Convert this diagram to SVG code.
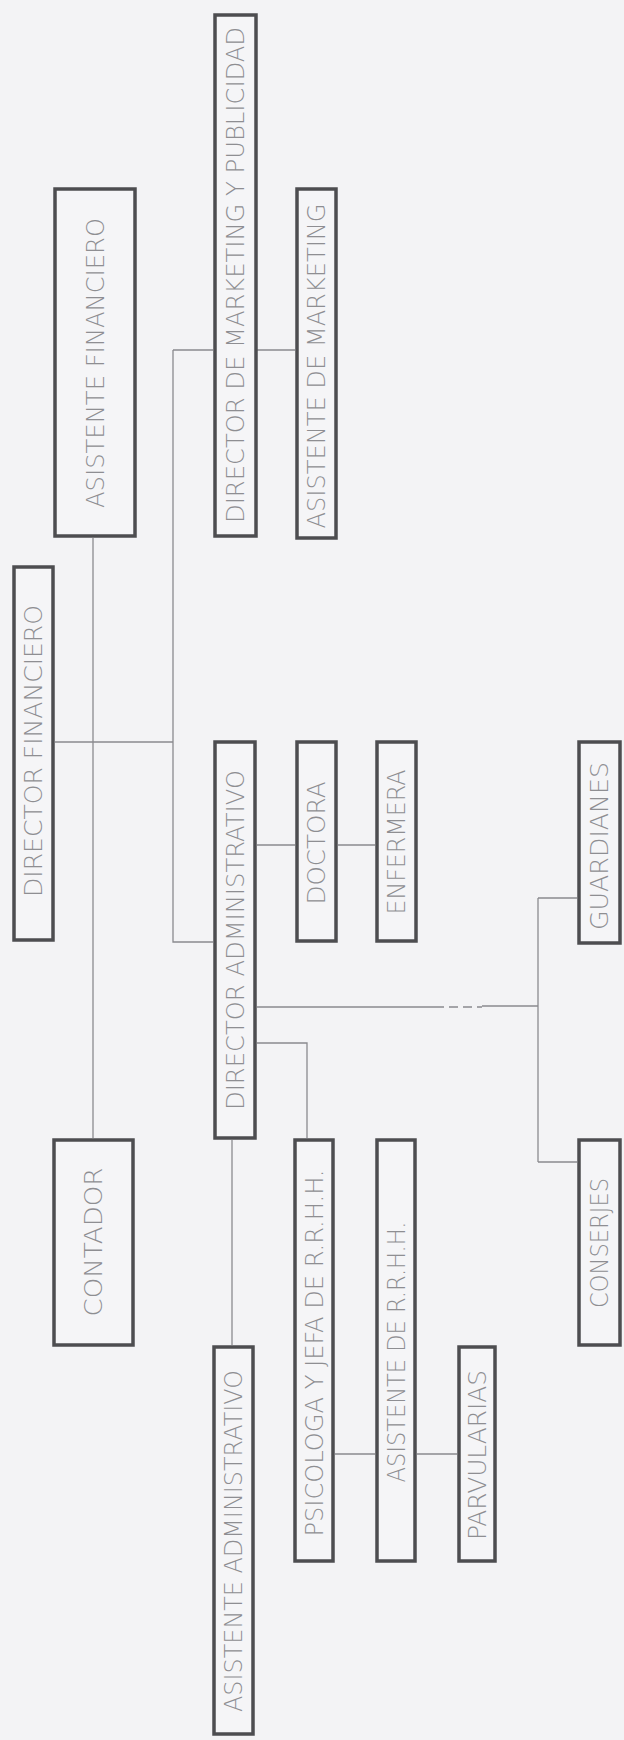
<svg xmlns="http://www.w3.org/2000/svg" width="624" height="1740" viewBox="0 0 624 1740">
<style>
.bg{fill:#f3f3f5}
.box{fill:#f5f5f7;stroke:#4d4d50;stroke-width:3.5}
.lbl{font-family:"DejaVu Sans","Liberation Sans",sans-serif;font-weight:200;font-size:24px;fill:#8e8e92;text-anchor:middle}
.ln{fill:none;stroke:#8a8a8e;stroke-width:1.3}
.dash{fill:none;stroke:#8a8a8e;stroke-width:1.3;stroke-dasharray:9 5}
</style>
<rect class="bg" x="0" y="0" width="624" height="1740"/>
<g id="connectors">
<path class="ln" d="M55 742H173"/>
<path class="ln" d="M93 538V1138"/>
<path class="ln" d="M173 350V942H213"/>
<path class="ln" d="M173 350H213"/>
<path class="ln" d="M257 350H295"/>
<path class="ln" d="M257 845H295"/>
<path class="ln" d="M338 845H375"/>
<path class="ln" d="M257 1007H435"/>
<path class="dash" d="M435 1007H482"/>
<path class="ln" d="M482 1006H538"/>
<path class="ln" d="M538 898V1162"/>
<path class="ln" d="M538 898H577"/>
<path class="ln" d="M538 1162H577"/>
<path class="ln" d="M257 1043H307V1138"/>
<path class="ln" d="M232 1140V1345"/>
<path class="ln" d="M335 1454H375"/>
<path class="ln" d="M417 1454H457"/>
</g>
<g id="dir-marketing"><rect class="box" x="215" y="15" width="41" height="521"/><text class="lbl" transform="translate(235.5,275) rotate(-90)" x="0" y="8.7" textLength="496" lengthAdjust="spacingAndGlyphs">DIRECTOR DE MARKETING Y PUBLICIDAD</text></g>
<g id="asist-financiero"><rect class="box" x="55" y="189" width="80" height="347"/><text class="lbl" transform="translate(95,363) rotate(-90)" x="0" y="8.7" textLength="290" lengthAdjust="spacingAndGlyphs">ASISTENTE FINANCIERO</text></g>
<g id="asist-marketing"><rect class="box" x="297" y="189" width="39" height="349"/><text class="lbl" transform="translate(316.5,366) rotate(-90)" x="0" y="8.7" textLength="325" lengthAdjust="spacingAndGlyphs">ASISTENTE DE MARKETING</text></g>
<g id="dir-financiero"><rect class="box" x="14" y="567" width="39" height="373"/><text class="lbl" transform="translate(33.5,751) rotate(-90)" x="0" y="8.7" textLength="292" lengthAdjust="spacingAndGlyphs">DIRECTOR FINANCIERO</text></g>
<g id="dir-administrativo"><rect class="box" x="215" y="742" width="40" height="396"/><text class="lbl" transform="translate(235,940) rotate(-90)" x="0" y="8.7" textLength="340" lengthAdjust="spacingAndGlyphs">DIRECTOR ADMINISTRATIVO</text></g>
<g id="doctora"><rect class="box" x="297" y="742" width="39" height="199"/><text class="lbl" transform="translate(316.5,843) rotate(-90)" x="0" y="8.7" textLength="123" lengthAdjust="spacingAndGlyphs">DOCTORA</text></g>
<g id="enfermera"><rect class="box" x="377" y="742" width="39" height="199"/><text class="lbl" transform="translate(396.5,842) rotate(-90)" x="0" y="8.7" textLength="145" lengthAdjust="spacingAndGlyphs">ENFERMERA</text></g>
<g id="guardianes"><rect class="box" x="579" y="742" width="41" height="201"/><text class="lbl" transform="translate(599.5,846) rotate(-90)" x="0" y="8.7" textLength="168" lengthAdjust="spacingAndGlyphs">GUARDIANES</text></g>
<g id="contador"><rect class="box" x="54" y="1140" width="79" height="205"/><text class="lbl" transform="translate(93.5,1242) rotate(-90)" x="0" y="8.7" textLength="149" lengthAdjust="spacingAndGlyphs">CONTADOR</text></g>
<g id="psicologa"><rect class="box" x="295" y="1140" width="38" height="421"/><text class="lbl" transform="translate(314,1353) rotate(-90)" x="0" y="8.7" textLength="367" lengthAdjust="spacingAndGlyphs">PSICOLOGA Y JEFA DE R.R.H.H.</text></g>
<g id="asist-rrhh"><rect class="box" x="377" y="1140" width="38" height="421"/><text class="lbl" transform="translate(396,1352) rotate(-90)" x="0" y="8.7" textLength="261" lengthAdjust="spacingAndGlyphs">ASISTENTE DE R.R.H.H.</text></g>
<g id="parvularias"><rect class="box" x="459" y="1347" width="36" height="214"/><text class="lbl" transform="translate(477,1455) rotate(-90)" x="0" y="8.7" textLength="170" lengthAdjust="spacingAndGlyphs">PARVULARIAS</text></g>
<g id="conserjes"><rect class="box" x="579" y="1140" width="41" height="205"/><text class="lbl" transform="translate(599.5,1243) rotate(-90)" x="0" y="8.7" textLength="130" lengthAdjust="spacingAndGlyphs">CONSERJES</text></g>
<g id="asist-administrativo"><rect class="box" x="214" y="1347" width="39" height="387"/><text class="lbl" transform="translate(233.5,1541) rotate(-90)" x="0" y="8.7" textLength="342" lengthAdjust="spacingAndGlyphs">ASISTENTE ADMINISTRATIVO</text></g>
</svg>
